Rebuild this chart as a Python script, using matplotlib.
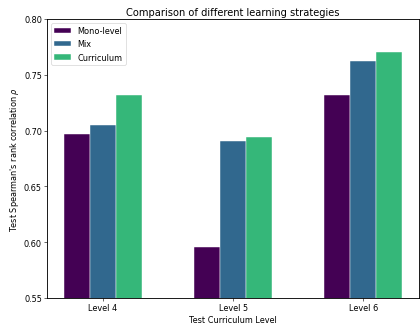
import matplotlib.pyplot as plt
import numpy as np

# Values
levels = ['Level 4', 'Level 5', 'Level 6']
mono = [0.697, 0.596, 0.732]
mix = [0.705, 0.691, 0.762]
curriculum = [0.732, 0.694, 0.770]
series_names = ['Mono-level', 'Mix', 'Curriculum']

colors = ['#440154', '#31688e', '#35b779']

plt.rcParams['font.size'] = 11.2

x = np.arange(len(levels))
width = 0.2

fig = plt.figure(figsize=(8, 6.19), dpi=52.5)
ax = fig.add_axes([0.112, 0.08, 0.886, 0.8585])

for i, (vals, name) in enumerate(zip([mono, mix, curriculum], series_names)):
    ax.bar(x + (i - 1) * width, vals, width, label=name, color=colors[i],
           edgecolor='white', linewidth=0.6)

ax.set_ylim(0.55, 0.80)
ax.set_yticks([0.55, 0.60, 0.65, 0.70, 0.75, 0.80])
ax.set_xticks(x)
ax.set_xticklabels(levels)
ax.set_xlabel('Test Curriculum Level')
ax.set_ylabel(r"Test Spearman's rank correlation $\rho$")
ax.set_title('Comparison of different learning strategies', fontsize=13.5)
ax.legend(loc='upper left')

for s in ax.spines.values():
    s.set_linewidth(1.2)

fig.savefig('out.png', dpi=52.5)
